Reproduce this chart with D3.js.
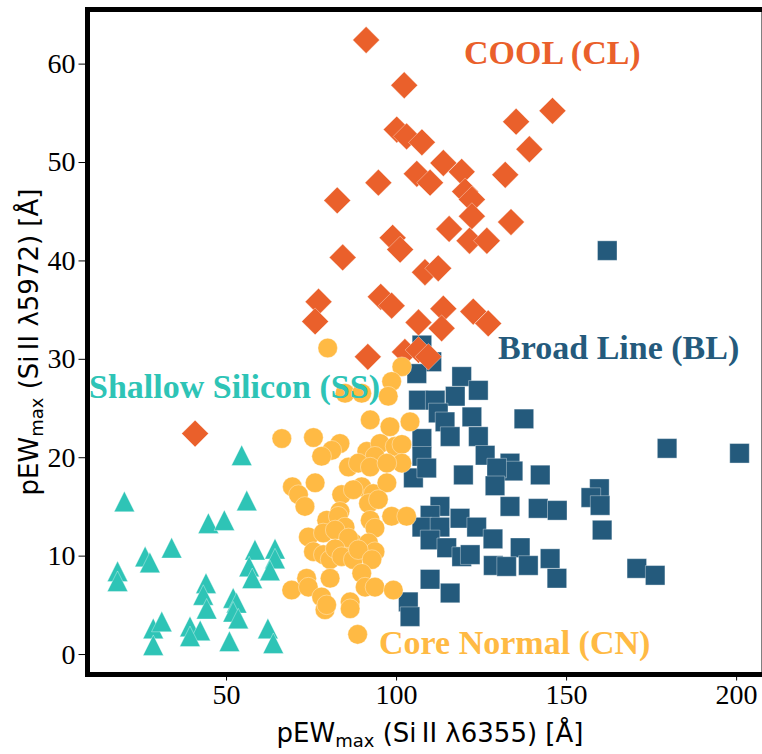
<!DOCTYPE html>
<html>
<head>
<meta charset="utf-8">
<script src="https://cdn.jsdelivr.net/npm/d3@7"></script>
<style>
  body { margin: 0; background: #fff; }
  svg { display: block; }
  .tick text { font-family: "Liberation Serif", "Times New Roman", serif !important; font-size: 28px !important; }
</style>
</head>
<body>
<div id="chart"></div>
<script>
// ---- data ----
const xTicks = [50, 100, 150, 200];
const yTicks = [0, 10, 20, 30, 40, 50, 60];

// Cool (CL) - diamonds
const clX = [91.2,102.4,146.0,135.3,139.2,100.2,103.1,107.6,113.9,119.3,106.1,110.0,94.8,132.1,120.3,122.3,82.7,122.3,115.6,133.8,121.6,126.7,99.0,101.2,84.3,108.5,112.4,95.5,98.7,77.2,76.2,106.6,113.9,113.4,122.7,127.1,91.7,102.6,106.6,109.5,40.9];
const clY = [62.4,57.8,55.2,54.1,51.3,53.3,52.6,52.0,49.9,49.0,48.8,47.9,47.9,48.7,47.0,46.2,46.1,44.5,43.2,43.9,42.0,42.0,42.3,41.1,40.3,38.8,39.2,36.3,35.4,35.8,33.8,33.7,35.1,33.1,34.8,33.6,30.2,30.7,30.9,30.2,22.4];

// Broad Line (BL) - squares
const blX = [162.1,179.7,201.0,159.8,157.3,160.0,160.6,170.8,176.2,107.6,110.5,106.1,119.3,124.2,106.6,111.5,117.4,112.4,114.4,122.3,137.6,115.9,124.2,107.6,126.2,107.6,133.5,134.4,129.6,119.8,142.4,105.1,109.0,129.1,133.5,141.8,147.4,112.9,110.0,107.6,112.9,118.8,123.7,128.5,110.0,114.9,119.3,121.8,136.5,128.6,132.5,138.9,145.3,147.3,110.0,115.9,103.6,104.1];
const blY = [41.0,20.9,20.4,16.8,15.9,15.1,12.6,8.7,8.0,31.4,29.7,28.5,28.2,26.8,25.8,25.8,26.2,24.5,23.6,24.1,23.9,22.1,22.1,21.9,20.2,20.1,19.4,18.6,18.9,18.2,18.2,17.9,18.9,17.1,15.0,14.8,14.6,15.0,14.1,12.9,12.9,13.8,12.9,11.7,11.6,10.8,9.9,10.1,10.8,9.0,8.9,9.0,9.7,7.7,7.6,6.2,5.3,3.8];

// Core Normal (CN) - circles
const cnX = [79.9,101.7,98.7,85.0,89.9,97.7,92.4,98.2,104.1,66.4,75.7,83.5,81.1,78.1,86.0,91.4,95.3,93.8,99.7,101.7,101.7,88.9,92.4,97.3,69.5,76.2,89.9,93.3,97.3,84.0,87.4,71.3,73.2,91.9,94.8,83.5,98.7,103.1,79.6,83.0,85.0,92.4,93.8,74.2,78.6,82.1,87.4,86.0,91.9,93.8,75.7,78.6,80.6,82.1,84.0,87.4,88.9,92.9,89.9,80.6,73.7,69.3,74.2,90.9,93.8,99.2,78.1,79.1,79.6,86.5,86.5,88.7];
const cnY = [31.1,29.2,27.7,26.5,26.5,26.2,23.8,23.1,23.6,21.9,22.0,21.4,20.7,20.1,19.0,20.6,21.4,20.1,21.1,21.3,19.4,19.4,19.0,19.4,17.0,17.4,17.0,16.3,17.4,16.2,16.7,16.2,15.0,15.3,15.7,14.5,14.0,14.0,13.6,14.0,12.9,13.6,12.8,11.9,12.3,12.6,11.3,11.8,11.3,10.4,10.4,10.1,9.6,10.7,9.9,9.6,10.6,9.6,8.2,7.7,7.7,6.5,6.8,6.8,6.8,6.5,5.8,4.5,5.0,5.3,4.6,2.0];

// Shallow Silicon (SS) - triangles
const ssX = [54.6,20.1,56.1,44.8,49.5,34.0,26.2,27.6,58.5,64.4,64.4,56.8,62.9,57.7,18.1,18.1,44.1,43.3,44.3,52.1,53.1,52.1,53.6,28.6,31.1,28.6,39.4,42.4,39.4,51.0,62.3,63.9];
const ssY = [20.2,15.5,15.6,13.3,13.6,10.8,9.9,9.3,10.6,10.7,9.7,8.9,8.5,7.7,8.4,7.4,7.2,6.0,4.6,5.7,5.2,4.3,3.6,2.6,3.3,0.9,2.8,2.4,1.8,1.3,2.6,1.1];

const groupNames = ['COOL (CL)', 'Broad Line (BL)', 'Shallow Silicon (SS)', 'Core Normal (CN)'];
const groupLabelX = [120, 130, 9.7, 95];
const groupLabelY = [60, 30, 26, 0];

// ---- layout ----
const colors = {
  cl: '#EA602B',
  bl: '#245A7C',
  cn: '#FFBA44',
  ss: '#2EC4B6'
};
const width = 762, height = 754;
const plot = { left: 87.5, right: 764, top: 9.5, bottom: 674.5 };
const serif = '"Liberation Serif", "Times New Roman", serif';
const sans = '"DejaVu Sans", sans-serif';

const svg = d3.select('#chart').append('svg')
  .attr('width', width)
  .attr('height', height);

const x = d3.scaleLinear().domain([9.26, 208.2]).range([plot.left, plot.right]);
const y = d3.scaleLinear().domain([-2.08, 65.5]).range([plot.bottom, plot.top]);

const zip = (xs, ys) => xs.map((v, i) => ({ x: v, y: ys[i] }));

// marker paths, centered at 0,0
const squarePath = s => { const h = s / 2; return `M${-h},${-h}H${h}V${h}H${-h}Z`; };
const diamondPath = r => `M0,${-r}L${r},0L0,${r}L${-r},0Z`;
const trianglePath = s => { const h = s / 2; return `M0,${-h}L${h},${h}L${-h},${h}Z`; };

const marks = svg.append('g');

function drawGroup(data, shape, color) {
  const g = marks.append('g');
  if (shape === 'circle') {
    g.selectAll('circle').data(data).enter().append('circle')
      .attr('cx', d => x(d.x))
      .attr('cy', d => y(d.y))
      .attr('r', 9.8)
      .attr('fill', color)
      .attr('stroke', 'rgba(255,255,255,0.45)')
      .attr('stroke-width', 0.8);
  } else {
    const p = shape === 'square' ? squarePath(19.5)
      : shape === 'diamond' ? diamondPath(13.4)
      : trianglePath(20.5);
    g.selectAll('path').data(data).enter().append('path')
      .attr('d', p)
      .attr('transform', d => `translate(${x(d.x)},${y(d.y)})`)
      .attr('fill', color)
      .attr('stroke', 'rgba(255,255,255,0.45)')
      .attr('stroke-width', 0.8);
  }
}

drawGroup(zip(blX, blY), 'square', colors.bl);
drawGroup(zip(clX, clY), 'diamond', colors.cl);
drawGroup(zip(cnX, cnY), 'circle', colors.cn);
drawGroup(zip(ssX, ssY), 'triangle', colors.ss);

// ---- group labels ----
const labelColors = [colors.cl, colors.bl, colors.ss, colors.cn];
svg.append('g').selectAll('text')
  .data(groupNames).enter().append('text')
  .attr('x', (d, i) => x(groupLabelX[i]))
  .attr('y', (d, i) => y(groupLabelY[i]))
  .attr('fill', (d, i) => labelColors[i])
  .style('font-family', serif)
  .style('font-weight', 'bold')
  .style('font-size', '34px')
  .text(d => d);

// ---- axes ----
const xAxis = d3.axisBottom(x).tickValues(xTicks).tickSize(6).tickSizeOuter(0).tickPadding(4);
const yAxis = d3.axisLeft(y).tickValues(yTicks).tickSize(9).tickSizeOuter(0).tickPadding(3);

const gx = svg.append('g').attr('transform', `translate(0,${plot.bottom})`).call(xAxis);
const gy = svg.append('g').attr('transform', `translate(${plot.left},0)`).call(yAxis);
[gx, gy].forEach(ax => {
  ax.attr('font-family', serif).attr('font-size', 28);
  ax.select('.domain').remove();
  ax.selectAll('line').attr('stroke', '#000').attr('stroke-width', 1);
  ax.selectAll('text')
    .attr('fill', '#000')
    .attr('font-family', serif)
    .attr('font-size', 28);
});

// frame
svg.append('rect')
  .attr('x', plot.left)
  .attr('y', plot.top)
  .attr('width', plot.right - plot.left)
  .attr('height', plot.bottom - plot.top)
  .attr('fill', 'none')
  .attr('stroke', '#000')
  .attr('stroke-width', 5);

// axis titles
const xt = svg.append('text')
  .attr('x', 430)
  .attr('y', 742)
  .attr('text-anchor', 'middle')
  .style('font-family', sans)
  .style('font-size', '26px');
xt.append('tspan').text('pEW');
xt.append('tspan').attr('dy', 5).style('font-size', '18px').text('max');
xt.append('tspan').attr('dy', -5).text(' (Si\u2009II \u03bb6355) [\u00c5]');

const yt = svg.append('text')
  .attr('transform', 'translate(38,342) rotate(-90)')
  .attr('text-anchor', 'middle')
  .style('font-family', sans)
  .style('font-size', '26px');
yt.append('tspan').text('pEW');
yt.append('tspan').attr('dy', 5).style('font-size', '18px').text('max');
yt.append('tspan').attr('dy', -5).text(' (Si\u2009II \u03bb5972) [\u00c5]');
</script>
</body>
</html>
